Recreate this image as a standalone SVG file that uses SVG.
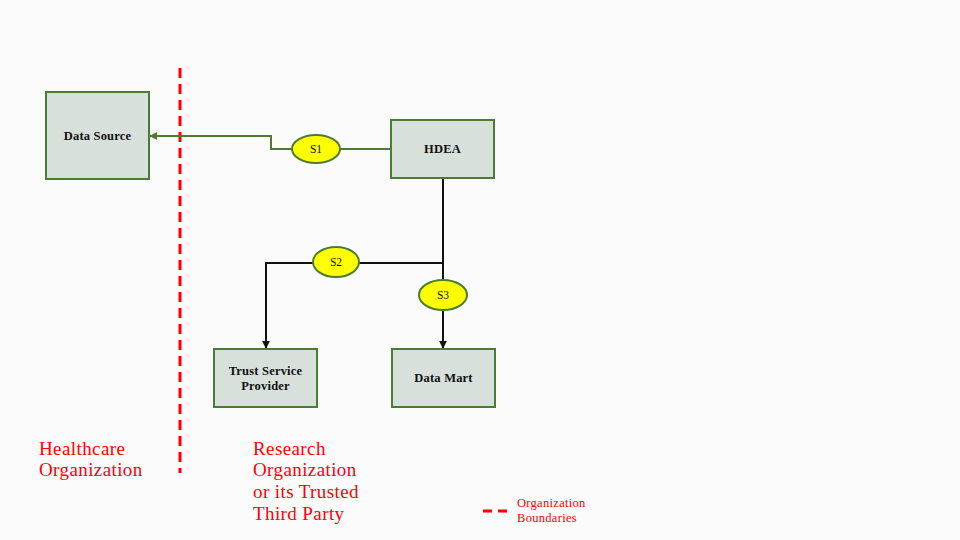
<svg xmlns="http://www.w3.org/2000/svg" width="960" height="540" viewBox="0 0 960 540">
<defs>
<style>
.box{fill:#d7e0db;stroke:#4a7c32;stroke-width:2}
.lbl{font-family:"Liberation Serif","DejaVu Serif",serif;font-weight:bold;font-size:12.5px;letter-spacing:0.2px;fill:#111;text-anchor:middle}
.ell{fill:#ffff00;stroke:#4a7c32;stroke-width:2}
.sl{font-family:"Liberation Serif","DejaVu Serif",serif;font-size:11.5px;fill:#111;text-anchor:middle}
.red{font-family:"Liberation Serif","DejaVu Serif",serif;font-size:19px;letter-spacing:0.4px;fill:#ff0000}
.leg{font-family:"Liberation Serif","DejaVu Serif",serif;font-size:12.5px;letter-spacing:0.3px;fill:#ff0000}
.g{fill:none;stroke:#4a7c32;stroke-width:2}
.k{fill:none;stroke:#111;stroke-width:2}
</style>
<marker id="ag" viewBox="0 0 10 10" refX="9" refY="5" markerWidth="4" markerHeight="4" orient="auto"><path d="M0,0L10,5L0,10z" fill="#4a7c32"/></marker>
<marker id="ak" viewBox="0 0 10 10" refX="9" refY="5" markerWidth="4" markerHeight="4" orient="auto"><path d="M0,0L10,5L0,10z" fill="#111"/></marker>
</defs>
<rect width="960" height="540" fill="#fbfbfb"/>
<g id="boundary">
<line x1="180" y1="68" x2="180" y2="473" stroke="#ff0000" stroke-width="3" stroke-dasharray="10,6"/>
</g>
<g id="connectors">
<polyline class="g" points="391,149 340,149"/>
<polyline class="g" points="292,149 271,149 271,136 150,136" marker-end="url(#ag)"/>
<polyline class="k" points="443,178 443,263 359,263"/>
<polyline class="k" points="313,263 266,263 266,348" marker-end="url(#ak)"/>
<line class="k" x1="443" y1="263" x2="443" y2="280"/>
<line class="k" x1="443" y1="310" x2="443" y2="348" marker-end="url(#ak)"/>
</g>
<g id="data-source"><rect class="box" x="46" y="92" width="103" height="87"/><text class="lbl" x="97.5" y="140">Data Source</text></g>
<g id="hdea"><rect class="box" x="391" y="120" width="103" height="58"/><text class="lbl" x="442.5" y="153">HDEA</text></g>
<g id="trust-service-provider"><rect class="box" x="214" y="349" width="103" height="58"/><text class="lbl" x="265.5" y="375">Trust Service</text><text class="lbl" x="265.5" y="390">Provider</text></g>
<g id="data-mart"><rect class="box" x="392" y="349" width="103" height="58"/><text class="lbl" x="443.5" y="382">Data Mart</text></g>
<g id="s1"><ellipse class="ell" cx="316" cy="149" rx="24" ry="14"/><text class="sl" x="316" y="153">S1</text></g>
<g id="s2"><ellipse class="ell" cx="336" cy="262" rx="23" ry="15"/><text class="sl" x="336" y="266">S2</text></g>
<g id="s3"><ellipse class="ell" cx="443" cy="295" rx="24" ry="15"/><text class="sl" x="443" y="299">S3</text></g>
<g id="labels">
<text class="red" x="39" y="455">Healthcare</text>
<text class="red" x="39" y="476">Organization</text>
<text class="red" x="253" y="455">Research</text>
<text class="red" x="253" y="476">Organization</text>
<text class="red" x="253" y="498">or its Trusted</text>
<text class="red" x="253" y="520">Third Party</text>
</g>
<g id="legend">
<line x1="483" y1="511" x2="509" y2="511" stroke="#ff0000" stroke-width="3" stroke-dasharray="9,6"/>
<text class="leg" x="517" y="507">Organization</text>
<text class="leg" x="517" y="522">Boundaries</text>
</g>
</svg>
